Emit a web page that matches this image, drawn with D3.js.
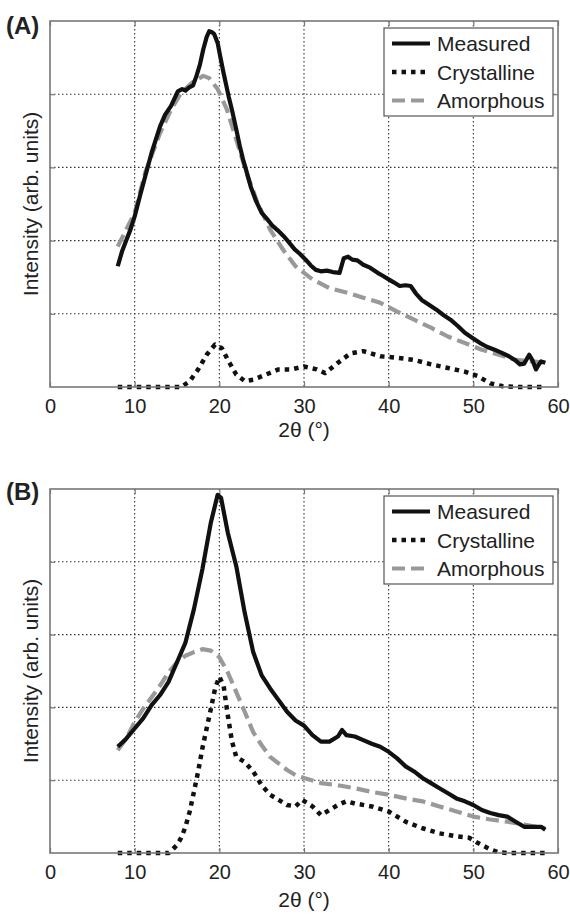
<!DOCTYPE html>
<html>
<head>
<meta charset="utf-8">
<script src="https://cdn.jsdelivr.net/npm/d3@7"></script>
<style>
  html, body { margin: 0; padding: 0; background: #fff; }
  svg { display: block; }
  text { font-family: "Liberation Sans", Arial, sans-serif; fill: #222; }
</style>
</head>
<body>
<svg id="chart" width="570" height="915"></svg>
<script>
// ---------------- DATA ----------------
const xTicks = [0, 10, 20, 30, 40, 50, 60];
const yGrid = [1, 2, 3, 4];
const seriesNames = ["Measured", "Crystalline", "Amorphous"];
const panelLabels = ["(A)", "(B)"];
const xTitle = "2θ (°)";
const yTitle = "Intensity (arb. units)";

// Panel A
const measuredA = [[8,1.65],[8.5,1.85],[9,2.0],[9.5,2.15],[10,2.33],[10.6,2.6],[11.25,2.88],[12,3.2],[13,3.56],[13.6,3.72],[14.3,3.84],[15.1,4.04],[15.6,4.07],[16,4.05],[16.4,4.09],[16.9,4.12],[17.3,4.25],[17.7,4.4],[18.1,4.61],[18.5,4.78],[18.8,4.86],[19.1,4.85],[19.4,4.82],[19.8,4.70],[20.1,4.52],[20.5,4.29],[21.1,3.97],[21.5,3.78],[22,3.52],[22.4,3.3],[22.8,3.11],[23.2,2.95],[23.7,2.74],[24.3,2.55],[25,2.38],[25.6,2.3],[26.3,2.20],[26.9,2.14],[27.6,2.06],[28.2,1.98],[28.9,1.88],[29.5,1.82],[30.2,1.74],[30.8,1.66],[31.4,1.60],[32,1.58],[32.7,1.59],[33.4,1.57],[34.2,1.56],[34.5,1.68],[34.7,1.76],[35.2,1.78],[35.7,1.74],[36.3,1.73],[37,1.67],[37.8,1.63],[38.7,1.56],[39.3,1.52],[40,1.47],[40.6,1.43],[41.3,1.38],[42,1.39],[42.6,1.38],[43.2,1.28],[43.9,1.19],[44.8,1.12],[45.6,1.06],[46.5,0.98],[47.3,0.92],[48.2,0.83],[49,0.74],[49.9,0.67],[50.8,0.60],[51.6,0.55],[52.5,0.51],[53.3,0.47],[54.2,0.42],[54.9,0.37],[55.5,0.31],[56,0.32],[56.6,0.44],[57,0.36],[57.4,0.24],[57.7,0.30],[58,0.35],[58.5,0.33]];
const crystallineA = [[8,0],[10,0],[12,0],[14,0],[15.5,0],[16.5,0.08],[17.5,0.24],[18.5,0.44],[19.5,0.58],[20.3,0.53],[21,0.37],[22,0.17],[23,0.08],[24,0.10],[25.5,0.17],[27,0.24],[28.5,0.24],[30,0.28],[31.5,0.24],[32.5,0.19],[34,0.33],[35.5,0.46],[37,0.49],[39,0.42],[41,0.40],[43,0.37],[45,0.31],[47,0.26],[49,0.21],[50.5,0.15],[52,0.05],[53.5,0.01],[55,0],[57,0],[58.5,0]];
const amorphousA = [[8,1.92],[10,2.38],[11.25,2.93],[13,3.47],[14.3,3.79],[15.5,4.02],[16.8,4.16],[18.1,4.25],[18.8,4.22],[19.8,4.07],[20.9,3.79],[22,3.38],[23.2,2.93],[24.5,2.52],[26,2.15],[27.5,1.88],[29,1.65],[31,1.47],[33,1.35],[35,1.29],[37,1.22],[39,1.15],[41,1.03],[43,0.92],[45,0.81],[47,0.69],[49,0.60],[51,0.51],[53,0.44],[55,0.37],[57,0.35],[58.5,0.33]];

// Panel B
const measuredB = [[8,1.46],[9,1.57],[10,1.71],[11,1.85],[12,2.03],[13,2.17],[14,2.35],[15,2.62],[16,2.89],[17,3.35],[18,3.90],[19,4.54],[19.8,4.92],[20.2,4.88],[21,4.40],[22,3.94],[23,3.30],[24,2.76],[25,2.44],[26,2.26],[27,2.10],[28,1.94],[29,1.82],[30,1.75],[31,1.62],[32,1.53],[33,1.53],[34,1.60],[34.5,1.69],[35,1.62],[36,1.60],[37,1.55],[38,1.50],[39,1.46],[40,1.39],[41,1.30],[42,1.19],[43,1.12],[44,1.03],[45,0.96],[46,0.89],[47,0.82],[48,0.75],[49,0.71],[50,0.66],[51,0.59],[52,0.55],[53,0.52],[54,0.50],[55,0.43],[56,0.36],[57,0.36],[58,0.36],[58.5,0.32]];
const crystallineB = [[8,0],[10,0],[12,0],[14,0],[14.5,0.05],[15,0.11],[15.5,0.21],[16,0.36],[16.5,0.57],[17,0.84],[17.5,1.12],[18,1.44],[18.5,1.71],[19,1.98],[19.5,2.26],[20,2.42],[20.5,2.30],[21,1.89],[21.5,1.53],[22,1.32],[23,1.25],[24,1.12],[25,0.93],[26,0.80],[27,0.73],[28,0.66],[29,0.64],[29.8,0.73],[31,0.64],[32,0.52],[33,0.59],[34,0.66],[35,0.71],[36,0.68],[38,0.64],[40,0.57],[42,0.43],[44,0.34],[46,0.27],[48,0.23],[49.5,0.21],[50.5,0.14],[52,0.05],[53,0.01],[54,0],[56,0],[58.5,0]];
const amorphousB = [[8,1.41],[9,1.57],[10,1.80],[11,1.98],[12,2.14],[13,2.30],[14,2.48],[15,2.62],[16,2.71],[17,2.76],[18,2.80],[19,2.78],[20,2.69],[21,2.48],[22,2.21],[23,1.94],[24,1.66],[25,1.48],[26,1.32],[27,1.23],[28,1.14],[29,1.07],[30,1.03],[32,0.96],[34,0.93],[36,0.89],[38,0.84],[40,0.80],[42,0.75],[44,0.71],[46,0.64],[48,0.57],[50,0.50],[52,0.46],[54,0.43],[56,0.39],[58.5,0.34]];

// ---------------- DRAW ----------------
const svg = d3.select("#chart");
const styles = [
  { stroke: "#111", width: 4.2, dash: null },
  { stroke: "#111", width: 4.5, dash: "4.5,5" },
  { stroke: "#999", width: 4.2, dash: "13,6" }
];

function panel(cfg) {
  const { top, bottom, label, labelY, titleY, series } = cfg;
  const left = 50, right = 558;
  const x = d3.scaleLinear().domain([0, 60]).range([left, right]);
  const y = d3.scaleLinear().domain([0, 5]).range([bottom, top]);
  const g = svg.append("g");

  // grid
  g.selectAll(".vg").data(xTicks.slice(1, -1)).join("line")
    .attr("x1", d => x(d)).attr("x2", d => x(d))
    .attr("y1", top).attr("y2", bottom)
    .attr("stroke", "#333").attr("stroke-width", 1.1).attr("stroke-dasharray", "1.5,2.5");
  g.selectAll(".hg").data(yGrid).join("line")
    .attr("x1", left).attr("x2", right)
    .attr("y1", d => y(d)).attr("y2", d => y(d))
    .attr("stroke", "#333").attr("stroke-width", 1.1).attr("stroke-dasharray", "1.5,2.5");

  // x axis (bottom) with labels; inward ticks
  const xAxis = d3.axisBottom(x).tickValues(xTicks).tickSize(-5).tickPadding(12);
  const ax = g.append("g").attr("transform", `translate(0,${bottom})`).call(xAxis);
  ax.select(".domain").remove();
  ax.selectAll(".tick line").attr("stroke", "#777").attr("stroke-width", 1.2);
  ax.selectAll(".tick text").attr("font-size", 20).attr("fill", "#222")
    .attr("font-family", "Liberation Sans, Arial, sans-serif");
  const axTop = g.append("g").attr("transform", `translate(0,${top})`)
    .call(d3.axisTop(x).tickValues(xTicks).tickSize(-5).tickFormat(""));
  axTop.select(".domain").remove();
  axTop.selectAll(".tick line").attr("stroke", "#777").attr("stroke-width", 1.2);
  const yL = g.append("g").attr("transform", `translate(${left},0)`)
    .call(d3.axisLeft(y).tickValues(yGrid).tickSize(-5).tickFormat(""));
  yL.select(".domain").remove();
  yL.selectAll(".tick line").attr("stroke", "#777").attr("stroke-width", 1.2);
  const yR = g.append("g").attr("transform", `translate(${right},0)`)
    .call(d3.axisRight(y).tickValues(yGrid).tickSize(-5).tickFormat(""));
  yR.select(".domain").remove();
  yR.selectAll(".tick line").attr("stroke", "#777").attr("stroke-width", 1.2);

  // series
  const line = d3.line().x(d => x(d[0])).y(d => y(d[1])).curve(d3.curveLinear);
  const order = [2, 1, 0];
  order.forEach(i => {
    const s = styles[i];
    g.append("path").datum(series[i]).attr("d", line)
      .attr("fill", "none").attr("stroke", s.stroke).attr("stroke-width", s.width)
      .attr("stroke-dasharray", s.dash).attr("stroke-linejoin", "round");
  });

  // frame
  g.append("rect").attr("x", left).attr("y", top).attr("width", right - left).attr("height", bottom - top)
    .attr("fill", "none").attr("stroke", "#777").attr("stroke-width", 1.6);

  // legend
  const lx = 384, ly = top + 7, lw = 169, lh = 88;
  const lg = g.append("g");
  lg.append("rect").attr("x", lx).attr("y", ly).attr("width", lw).attr("height", lh)
    .attr("fill", "#fff").attr("stroke", "#555").attr("stroke-width", 1.2);
  seriesNames.forEach((n, i) => {
    const cy = ly + 15.5 + i * 28.5;
    const s = styles[i];
    lg.append("line").attr("x1", lx + 8).attr("x2", lx + 46).attr("y1", cy).attr("y2", cy)
      .attr("stroke", s.stroke).attr("stroke-width", s.width).attr("stroke-dasharray", s.dash);
    lg.append("text").attr("x", lx + 53).attr("y", cy).attr("dy", "0.36em")
      .attr("font-size", 21).text(n);
  });

  // titles
  g.append("text").attr("x", (left + right) / 2).attr("y", titleY).attr("text-anchor", "middle")
    .attr("font-size", 21).text(xTitle);
  g.append("text").attr("transform", `translate(30,${(top + bottom) / 2}) rotate(-90)`)
    .attr("text-anchor", "middle").attr("dy", "0.36em").attr("font-size", 21).text(yTitle);
  g.append("text").attr("x", 6).attr("y", labelY).attr("font-size", 24).attr("font-weight", "bold")
    .attr("fill", "#111").text(label);
}

panel({ top: 21, bottom: 387, label: panelLabels[0], labelY: 34, titleY: 437,
        series: [measuredA, crystallineA, amorphousA] });
panel({ top: 489, bottom: 853, label: panelLabels[1], labelY: 500, titleY: 907,
        series: [measuredB, crystallineB, amorphousB] });
</script>
</body>
</html>
